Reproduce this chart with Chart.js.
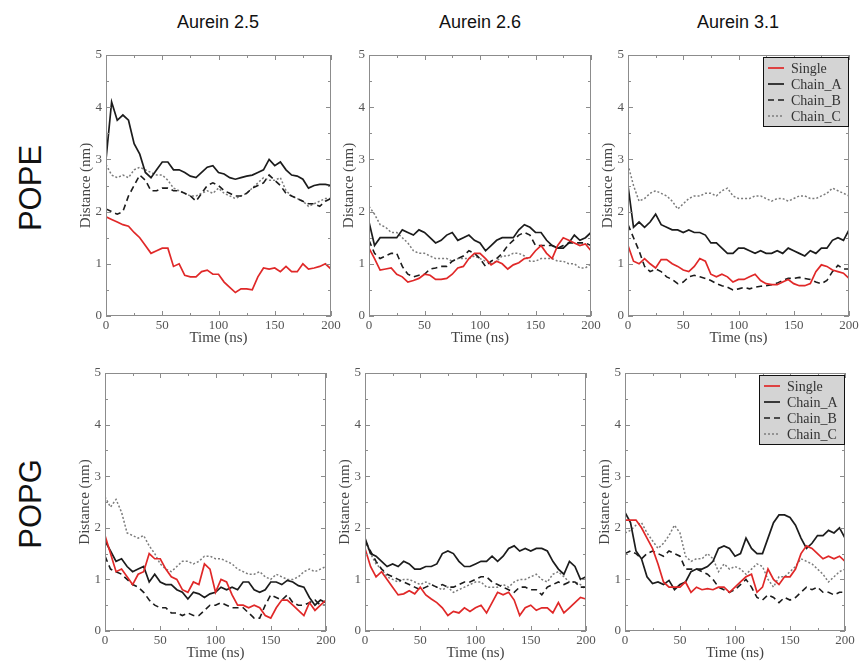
<!DOCTYPE html>
<html>
<head>
<meta charset="utf-8">
<script src="https://cdn.jsdelivr.net/npm/chart.js@4.4.0/dist/chart.umd.min.js"></script>
<style>
  html, body { margin: 0; padding: 0; background: #fff; width: 859px; height: 662px; overflow: hidden; }
  .panel { position: absolute; }
  .col-title { position: absolute; font-family: "Liberation Sans", Arial, sans-serif; font-size: 18px; color: #111; transform: translateX(-50%); white-space: nowrap; }
  .row-title { position: absolute; font-family: "Liberation Sans", Arial, sans-serif; font-size: 31px; color: #111; transform: translate(-50%, -50%) rotate(-90deg); white-space: nowrap; }
</style>
</head>
<body>
<div class="col-title" style="left:218px; top:12px">Aurein 2.5</div>
<div class="col-title" style="left:480px; top:12px">Aurein 2.6</div>
<div class="col-title" style="left:738px; top:12px">Aurein 3.1</div>
<div class="row-title" style="left:31px; top:188px">POPE</div>
<div class="row-title" style="left:31px; top:504px">POPG</div>

<script>
// time axis (ns), one sample every 5 ns
const time = [0, 5, 10, 15, 20, 25, 30, 35, 40, 45, 50, 55, 60, 65, 70, 75, 80, 85, 90, 95, 100,
              105, 110, 115, 120, 125, 130, 135, 140, 145, 150, 155, 160, 165, 170, 175, 180, 185, 190, 195, 200];
const seriesNames = ['Single', 'Chain_A', 'Chain_B', 'Chain_C'];
const xTicks = [0, 50, 100, 150, 200];
const yTicks = [0, 1, 2, 3, 4, 5];

// POPE - Aurein 2.5
const popeA25Single = [1.9, 1.85, 1.8, 1.75, 1.72, 1.6, 1.5, 1.35, 1.2, 1.25, 1.3, 1.3, 0.95, 1.0, 0.78, 0.75, 0.75, 0.85, 0.88, 0.8, 0.8,
  0.65, 0.55, 0.45, 0.52, 0.52, 0.5, 0.75, 0.92, 0.9, 0.92, 0.85, 0.95, 0.85, 0.85, 1.0, 0.9, 0.92, 0.95, 1.0, 0.9];
const popeA25ChainA = [3.0, 4.1, 3.75, 3.85, 3.75, 3.3, 3.1, 2.75, 2.65, 2.8, 2.95, 2.95, 2.8, 2.8, 2.75, 2.68, 2.65, 2.75, 2.85, 2.88, 2.75,
  2.72, 2.65, 2.62, 2.65, 2.68, 2.7, 2.75, 2.8, 3.0, 2.88, 2.95, 2.8, 2.7, 2.68, 2.62, 2.45, 2.5, 2.52, 2.52, 2.5];
const popeA25ChainB = [2.05, 2.0, 1.95, 2.0, 2.3, 2.5, 2.7, 2.6, 2.4, 2.4, 2.45, 2.45, 2.4, 2.4, 2.35, 2.3, 2.2, 2.35, 2.5, 2.55, 2.5,
  2.4, 2.35, 2.3, 2.3, 2.35, 2.45, 2.5, 2.55, 2.7, 2.6, 2.5, 2.35, 2.3, 2.25, 2.2, 2.15, 2.15, 2.1, 2.2, 2.25];
const popeA25ChainC = [2.9, 2.7, 2.65, 2.7, 2.65, 2.8, 2.85, 2.8, 2.75, 2.7, 2.7, 2.6, 2.45, 2.4, 2.35, 2.3, 2.3, 2.35, 2.4, 2.35, 2.45,
  2.35, 2.3, 2.25, 2.3, 2.35, 2.45, 2.55, 2.65, 2.6, 2.6, 2.65, 2.4, 2.3, 2.25, 2.2, 2.1, 2.15, 2.2, 2.25, 2.25];

// POPE - Aurein 2.6
const popeA26Single = [1.3, 1.1, 0.88, 0.9, 0.92, 0.8, 0.75, 0.65, 0.68, 0.72, 0.8, 0.78, 0.7, 0.7, 0.72, 0.8, 0.92, 0.95, 1.1, 1.2, 1.2,
  1.1, 0.98, 1.05, 1.0, 0.9, 0.98, 1.02, 1.1, 1.12, 1.25, 1.35, 1.2, 1.1, 1.35, 1.5, 1.45, 1.4, 1.35, 1.38, 1.25];
const popeA26ChainA = [1.8, 1.35, 1.5, 1.5, 1.5, 1.5, 1.65, 1.6, 1.55, 1.65, 1.6, 1.5, 1.4, 1.45, 1.55, 1.6, 1.45, 1.5, 1.55, 1.45, 1.4,
  1.25, 1.35, 1.45, 1.5, 1.5, 1.5, 1.65, 1.75, 1.7, 1.6, 1.6, 1.45, 1.35, 1.3, 1.3, 1.4, 1.55, 1.45, 1.5, 1.6];
const popeA26ChainB = [1.45, 1.2, 1.1, 1.15, 1.2, 1.2, 0.95, 0.8, 0.75, 0.78, 0.8, 0.9, 0.92, 0.95, 0.95, 1.05, 1.1, 1.15, 1.25, 1.2, 1.1,
  0.95, 1.05, 1.1, 1.2, 1.35, 1.45, 1.55, 1.6, 1.55, 1.35, 1.35, 1.35, 1.35, 1.3, 1.35, 1.4, 1.4, 1.4, 1.4, 1.35];
const popeA26ChainC = [2.1, 1.95, 1.75, 1.7, 1.6, 1.6, 1.5, 1.4, 1.25, 1.2, 1.2, 1.15, 1.1, 1.1, 1.1, 1.05, 1.1, 1.1, 1.1, 1.15, 1.1,
  1.05, 1.0, 1.05, 1.15, 1.15, 1.2, 1.2, 1.15, 1.05, 1.05, 1.1, 1.1, 1.1, 1.05, 1.05, 1.0, 1.0, 0.92, 0.92, 1.0];

// POPE - Aurein 3.1
const popeA31Single = [1.35, 1.05, 1.0, 1.1, 1.0, 0.92, 1.08, 1.08, 1.0, 0.95, 0.88, 0.85, 0.95, 1.1, 1.05, 0.8, 0.75, 0.8, 0.75, 0.65, 0.7,
  0.7, 0.75, 0.8, 0.68, 0.62, 0.6, 0.6, 0.65, 0.7, 0.62, 0.58, 0.58, 0.62, 0.85, 0.98, 0.95, 0.88, 0.85, 0.82, 0.72];
const popeA31ChainA = [2.5, 1.7, 1.8, 1.7, 1.8, 1.95, 1.75, 1.7, 1.65, 1.65, 1.6, 1.65, 1.6, 1.6, 1.55, 1.4, 1.4, 1.3, 1.2, 1.2, 1.3,
  1.3, 1.25, 1.2, 1.25, 1.2, 1.2, 1.25, 1.2, 1.3, 1.25, 1.2, 1.15, 1.25, 1.2, 1.3, 1.3, 1.45, 1.5, 1.45, 1.65];
const popeA31ChainB = [1.75, 1.5, 1.25, 0.95, 0.85, 0.9, 0.85, 0.75, 0.7, 0.62, 0.65, 0.75, 0.78, 0.75, 0.72, 0.68, 0.62, 0.58, 0.55, 0.5, 0.52,
  0.55, 0.52, 0.55, 0.57, 0.58, 0.6, 0.63, 0.68, 0.72, 0.72, 0.74, 0.72, 0.7, 0.65, 0.62, 0.68, 0.85, 0.97, 0.9, 0.9];
const popeA31ChainC = [2.9, 2.5, 2.2, 2.25, 2.35, 2.4, 2.35, 2.3, 2.2, 2.05, 2.15, 2.25, 2.3, 2.3, 2.35, 2.35, 2.3, 2.4, 2.45, 2.3, 2.25,
  2.25, 2.25, 2.3, 2.3, 2.25, 2.2, 2.25, 2.25, 2.2, 2.25, 2.3, 2.3, 2.25, 2.25, 2.3, 2.35, 2.45, 2.4, 2.35, 2.3];

// POPG - Aurein 2.5
const popgA25Single = [1.85, 1.5, 1.15, 1.2, 1.05, 0.9, 1.1, 1.15, 1.5, 1.4, 1.4, 1.2, 1.05, 1.0, 0.8, 0.75, 0.95, 0.9, 1.3, 1.2, 0.75,
  1.0, 0.95, 0.7, 0.5, 0.5, 0.45, 0.5, 0.45, 0.3, 0.25, 0.45, 0.6, 0.6, 0.5, 0.4, 0.3, 0.55, 0.4, 0.5, 0.6];
const popgA25ChainA = [1.75, 1.55, 1.35, 1.4, 1.25, 1.15, 1.2, 1.25, 0.95, 1.1, 0.95, 0.9, 0.9, 0.8, 0.75, 0.62, 0.75, 0.72, 0.65, 0.72, 0.75,
  0.85, 0.8, 0.85, 0.8, 0.95, 0.95, 0.8, 0.75, 0.8, 0.95, 0.95, 0.9, 0.98, 0.95, 0.88, 0.85, 0.65, 0.5, 0.6, 0.55];
const popgA25ChainB = [1.45, 1.2, 1.15, 1.1, 1.0, 0.9, 0.85, 0.75, 0.6, 0.5, 0.45, 0.45, 0.35, 0.35, 0.3, 0.35, 0.3, 0.3, 0.4, 0.5, 0.5,
  0.55, 0.5, 0.45, 0.45, 0.45, 0.35, 0.25, 0.25, 0.5, 0.7, 0.65, 0.6, 0.7, 0.55, 0.5, 0.5, 0.55, 0.6, 0.5, 0.5];
const popgA25ChainC = [2.6, 2.4, 2.55, 2.3, 1.9, 1.85, 1.8, 1.85, 1.65, 1.5, 1.3, 1.2, 1.15, 1.25, 1.35, 1.35, 1.3, 1.35, 1.45, 1.45, 1.4,
  1.4, 1.35, 1.3, 1.2, 1.15, 1.1, 1.1, 1.15, 1.05, 1.0, 1.1, 1.05, 1.0, 1.0, 1.05, 1.15, 1.2, 1.15, 1.2, 1.25];

// POPG - Aurein 2.6
const popgA26Single = [1.6, 1.25, 1.05, 1.15, 1.0, 0.85, 0.7, 0.72, 0.78, 0.72, 0.85, 0.7, 0.62, 0.55, 0.45, 0.3, 0.38, 0.35, 0.45, 0.38, 0.45,
  0.5, 0.35, 0.55, 0.75, 0.7, 0.75, 0.6, 0.3, 0.45, 0.5, 0.4, 0.45, 0.45, 0.35, 0.55, 0.35, 0.45, 0.55, 0.65, 0.62];
const popgA26ChainA = [1.8, 1.5, 1.45, 1.35, 1.25, 1.3, 1.25, 1.35, 1.3, 1.2, 1.2, 1.25, 1.25, 1.3, 1.5, 1.55, 1.5, 1.35, 1.25, 1.25, 1.3,
  1.35, 1.35, 1.45, 1.35, 1.45, 1.6, 1.65, 1.55, 1.6, 1.55, 1.6, 1.6, 1.55, 1.35, 1.2, 1.1, 1.35, 1.25, 1.0, 1.05];
const popgA26ChainB = [1.75, 1.55, 1.35, 1.2, 1.1, 1.05, 1.0, 0.95, 0.9, 0.85, 0.8, 0.85, 0.9, 0.85, 0.9, 0.85, 0.85, 0.9, 0.95, 0.95, 1.0,
  1.05, 1.05, 0.95, 0.9, 0.85, 0.8, 0.75, 0.85, 0.85, 0.8, 0.8, 0.7, 0.85, 0.9, 0.95, 0.9, 0.95, 0.95, 0.85, 0.85];
const popgA26ChainC = [1.75, 1.5, 1.3, 1.2, 1.05, 1.0, 0.95, 1.0, 1.0, 0.95, 0.9, 0.95, 0.9, 0.85, 0.8, 0.85, 0.75, 0.8, 0.85, 0.9, 0.95,
  0.95, 0.85, 0.85, 0.85, 0.9, 0.85, 0.95, 1.0, 1.0, 1.05, 1.1, 1.0, 0.95, 1.1, 1.15, 1.05, 0.95, 0.95, 0.9, 0.8];

// POPG - Aurein 3.1
const popgA31Single = [2.15, 2.15, 2.15, 2.0, 1.8, 1.6, 1.3, 0.95, 0.85, 0.85, 0.85, 0.95, 0.75, 0.85, 0.8, 0.82, 0.8, 0.85, 0.85, 0.75, 0.85,
  0.95, 1.05, 1.1, 0.75, 0.85, 1.2, 1.0, 0.9, 1.05, 1.05, 1.2, 1.5, 1.65, 1.6, 1.5, 1.4, 1.45, 1.4, 1.45, 1.35];
const popgA31ChainA = [2.3, 2.1, 1.55, 1.4, 1.05, 0.92, 0.95, 0.9, 0.98, 0.8, 0.9, 0.95, 1.15, 1.2, 1.2, 1.25, 1.35, 1.6, 1.65, 1.6, 1.45,
  1.5, 1.8, 1.6, 1.5, 1.5, 1.8, 2.1, 2.25, 2.25, 2.2, 2.05, 1.8, 1.6, 1.7, 1.85, 1.85, 1.95, 1.9, 2.0, 1.8];
const popgA31ChainB = [1.5, 1.55, 1.5, 1.4, 1.5, 1.55, 1.5, 1.45, 1.55, 1.5, 1.45, 1.2, 1.2, 1.2, 1.15, 1.1, 1.0, 0.85, 0.8, 0.75, 0.8,
  0.9, 1.0, 0.85, 0.65, 0.6, 0.7, 0.65, 0.55, 0.65, 0.6, 0.65, 0.75, 0.85, 0.8, 0.85, 0.75, 0.75, 0.7, 0.75, 0.75];
const popgA31ChainC = [1.9, 1.95, 2.05, 2.1, 1.9, 1.75, 1.6, 1.7, 1.85, 2.05, 1.9, 1.45, 1.35, 1.4, 1.4, 1.5, 1.4, 1.15, 1.3, 1.2, 1.25,
  1.2, 1.1, 1.2, 1.3, 1.25, 1.0, 0.85, 1.05, 1.05, 1.15, 1.25, 1.4, 1.35, 1.3, 1.2, 1.1, 0.95, 1.05, 1.15, 1.2];

const lineStyles = {
  Single:  { borderColor: '#e02828', borderWidth: 1.7, borderDash: [] },
  Chain_A: { borderColor: '#1c1c1c', borderWidth: 1.7, borderDash: [] },
  Chain_B: { borderColor: '#1c1c1c', borderWidth: 1.6, borderDash: [6, 4] },
  Chain_C: { borderColor: '#7c7c7c', borderWidth: 1.5, borderDash: [2, 2] }
};

const serif = '"Liberation Serif", "Times New Roman", serif';

// frame on all four sides with inward major/minor ticks (xmgrace look)
const frameTicks = {
  id: 'frameTicks',
  afterDatasetsDraw(chart) {
    const { ctx, chartArea: a, scales: { x, y } } = chart;
    ctx.save();
    ctx.strokeStyle = '#8c8c8c';
    ctx.lineWidth = 1;
    ctx.strokeRect(Math.round(a.left) + 0.5, Math.round(a.top) + 0.5,
                   Math.round(a.right - a.left) - 1, Math.round(a.bottom - a.top) - 1);
    ctx.beginPath();
    for (let v = x.min; v <= x.max; v += 25) {
      const px = Math.round(x.getPixelForValue(v)) + 0.5;
      const len = v % 50 === 0 ? 5 : 3;
      ctx.moveTo(px, a.bottom); ctx.lineTo(px, a.bottom - len);
      ctx.moveTo(px, a.top); ctx.lineTo(px, a.top + len);
    }
    for (let v = y.min; v <= y.max; v += 0.5) {
      const py = Math.round(y.getPixelForValue(v)) + 0.5;
      const len = v % 1 === 0 ? 5 : 3;
      ctx.moveTo(a.left, py); ctx.lineTo(a.left + len, py);
      ctx.moveTo(a.right, py); ctx.lineTo(a.right - len, py);
    }
    ctx.stroke();
    ctx.restore();
  }
};

// grey boxed legend in the top-right corner of the plot area
const boxLegend = {
  id: 'boxLegend',
  afterDraw(chart, args, opts) {
    if (!opts.show) return;
    const { ctx, chartArea: a } = chart;
    const w = 86, h = 70, rowH = 16;
    const left = a.right - w, top = a.top + 2;
    ctx.save();
    ctx.fillStyle = '#d4d4d4';
    ctx.fillRect(left, top, w, h);
    ctx.strokeStyle = '#111';
    ctx.lineWidth = 1;
    ctx.strokeRect(left + 0.5, top + 0.5, w - 1, h - 1);
    ctx.font = '14px ' + serif;
    ctx.textBaseline = 'middle';
    chart.data.datasets.forEach((ds, i) => {
      const cy = top + 11 + i * rowH;
      ctx.beginPath();
      ctx.strokeStyle = ds.borderColor;
      ctx.lineWidth = ds.borderWidth;
      ctx.setLineDash(ds.borderDash);
      ctx.moveTo(left + 5, cy); ctx.lineTo(left + 21, cy);
      ctx.stroke();
      ctx.setLineDash([]);
      ctx.fillStyle = '#333';
      ctx.fillText(ds.label, left + 28, cy + 1);
    });
    ctx.restore();
  }
};

const panels = [
  { id: 'p1', L: 106, T: 55,  R: 331, B: 316, data: [popeA25Single, popeA25ChainA, popeA25ChainB, popeA25ChainC], legend: false },
  { id: 'p2', L: 369, T: 55,  R: 591, B: 316, data: [popeA26Single, popeA26ChainA, popeA26ChainB, popeA26ChainC], legend: false },
  { id: 'p3', L: 628, T: 55,  R: 849, B: 316, data: [popeA31Single, popeA31ChainA, popeA31ChainB, popeA31ChainC], legend: true },
  { id: 'p4', L: 105, T: 373, R: 326, B: 631, data: [popgA25Single, popgA25ChainA, popgA25ChainB, popgA25ChainC], legend: false },
  { id: 'p5', L: 365, T: 373, R: 586, B: 631, data: [popgA26Single, popgA26ChainA, popgA26ChainB, popgA26ChainC], legend: false },
  { id: 'p6', L: 625, T: 373, R: 845, B: 631, data: [popgA31Single, popgA31ChainA, popgA31ChainB, popgA31ChainC], legend: true }
];

const yAxisW = 29, xAxisH = 31, padTop = 12, padRight = 14;

panels.forEach(p => {
  const div = document.createElement('div');
  div.className = 'panel';
  const w = (p.R - p.L) + yAxisW + padRight;
  const h = (p.B - p.T) + padTop + xAxisH;
  div.style.left = (p.L - yAxisW) + 'px';
  div.style.top = (p.T - padTop) + 'px';
  div.style.width = w + 'px';
  div.style.height = h + 'px';
  const canvas = document.createElement('canvas');
  canvas.width = w;
  canvas.height = h;
  div.appendChild(canvas);
  document.body.appendChild(div);

  const datasets = seriesNames.map((name, i) => ({
    label: name,
    data: time.map((t, k) => ({ x: t, y: p.data[i][k] })),
    ...lineStyles[name],
    pointRadius: 0,
    tension: 0,
    fill: false
  }));

  new Chart(canvas.getContext('2d'), {
    type: 'line',
    data: { datasets },
    options: {
      responsive: false,
      animation: false,
      layout: { padding: { top: padTop, right: padRight, left: 0, bottom: 0 } },
      plugins: {
        legend: { display: false },
        tooltip: { enabled: false },
        boxLegend: { show: p.legend }
      },
      scales: {
        x: {
          type: 'linear', min: 0, max: 200,
          afterFit: s => { s.height = xAxisH; },
          afterBuildTicks: s => { s.ticks = xTicks.map(v => ({ value: v })); },
          grid: { display: false, drawTicks: false },
          border: { display: false },
          ticks: { padding: 2, maxRotation: 0, color: '#555', font: { family: serif, size: 13 } },
          title: { display: true, text: 'Time (ns)', color: '#444', padding: 0, font: { family: serif, size: 15 } }
        },
        y: {
          min: 0, max: 5,
          afterFit: s => { s.width = yAxisW; },
          afterBuildTicks: s => { s.ticks = yTicks.map(v => ({ value: v })); },
          grid: { display: false, drawTicks: false },
          border: { display: false },
          ticks: { padding: 4, color: '#555', font: { family: serif, size: 13 } },
          title: { display: true, text: 'Distance (nm)', color: '#444', padding: 0, font: { family: serif, size: 15 } }
        }
      }
    },
    plugins: [frameTicks, boxLegend]
  });
});
</script>
</body>
</html>
